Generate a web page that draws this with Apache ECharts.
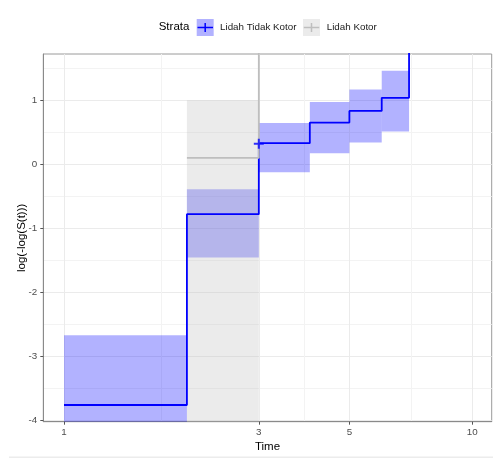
<!DOCTYPE html>
<html>
<head>
<meta charset="utf-8">
<script src="https://cdn.jsdelivr.net/npm/echarts@6/dist/echarts.min.js"></script>
<style>
html,body{margin:0;padding:0;background:#fff;}
#chart{width:493px;height:458px;}
</style>
</head>
<body>
<div id="chart"></div>
<script>
// ---- data ----
const strataNames = ['Lidah Tidak Kotor', 'Lidah Kotor'];
// Lidah Tidak Kotor: step line log(-log(S(t))) and confidence band
const timesA = [1, 2, 3, 4, 5, 6, 7];
const cloglogA = [-3.766, -0.781, 0.329, 0.651, 0.834, 1.038, Infinity];
const lowerA = [-Infinity, -1.46, -0.125, 0.172, 0.338, 0.51];
const upperA = [-2.675, -0.391, 0.646, 0.975, 1.167, 1.4625];
// Lidah Kotor
const timesB = [2, 3];
const cloglogB = [0.099, Infinity];
const lowerB = [-Infinity];
const upperB = [1.0];
// censored observation
const censorA = [[3, 0.32]];
// ticks
const xTicks = [1, 3, 5, 10];
const xMinorTicks = [Math.sqrt(3), Math.sqrt(15), Math.sqrt(50)];
const yTicks = [-4, -3, -2, -1, 0, 1];
const yMinorTicks = [-3.5, -2.5, -1.5, -0.5, 0.5, 1.5];

// ---- chart ----
const X_MIN = -0.0507, X_MAX = 1.0475;
const Y_MIN = -4.027, Y_MAX = 1.724;
const lg = Math.log10;
const FONT = "'Liberation Sans', Arial, sans-serif";

function clampY(v) {
  if (v === Infinity) return Y_MAX + 10;
  if (v === -Infinity) return Y_MIN - 10;
  return v;
}
function stepLine(times, vals) {
  return times.map((t, i) => [lg(t), clampY(vals[i])]);
}
function bandData(times, lo, hi) {
  const out = [];
  for (let i = 0; i < times.length - 1 && i < lo.length; i++) {
    out.push([lg(times[i]), lg(times[i + 1]), clampY(lo[i]), clampY(hi[i])]);
  }
  return out;
}
function bandRender(color) {
  return function (params, api) {
    const p0 = api.coord([api.value(0), api.value(3)]);
    const p1 = api.coord([api.value(1), api.value(2)]);
    const cs = params.coordSys;
    const shape = echarts.graphic.clipRectByRect(
      { x: p0[0], y: p0[1], width: p1[0] - p0[0], height: p1[1] - p0[1] },
      { x: cs.x, y: cs.y, width: cs.width, height: cs.height }
    );
    return shape && { type: 'rect', shape: shape, style: { fill: color } };
  };
}

const blueFill = 'rgba(0,0,255,0.3)';
const greyFill = 'rgba(190,190,190,0.3)';

const chart = echarts.init(document.getElementById('chart'), null, { renderer: 'canvas' });
const option = {
  animation: false,
  backgroundColor: '#fff',
  textStyle: { fontFamily: FONT },
  grid: {
    left: 43.3, right: 1.3, top: 54, bottom: 36.3,
    containLabel: false, outerBoundsMode: 'none',
    show: true, borderColor: '#9a9a9a', borderWidth: 1, backgroundColor: 'transparent'
  },
  xAxis: [
    {
      type: 'value', min: X_MIN, max: X_MAX,
      name: 'Time', nameLocation: 'middle', nameGap: 19, nameMoveOverlap: false,
      nameTextStyle: { fontSize: 11.5, color: '#000', fontFamily: FONT },
      axisLine: { show: true, onZero: false, lineStyle: { color: '#8a8a8a', width: 1 } },
      axisTick: { show: true, length: 3, customValues: xTicks.map(lg), lineStyle: { color: '#555' } },
      axisLabel: {
        customValues: xTicks.map(lg), margin: 6, fontSize: 9.8, color: '#4d4d4d', fontFamily: FONT,
        formatter: v => String(Math.round(Math.pow(10, v)))
      },
      splitLine: { show: true, lineStyle: { color: '#ebebeb', width: 1 } }
    },
    {
      type: 'value', min: X_MIN, max: X_MAX, position: 'bottom',
      axisLine: { show: false }, axisLabel: { show: false },
      axisTick: { show: false, customValues: xMinorTicks.map(lg) },
      splitLine: { show: true, lineStyle: { color: '#f3f3f3', width: 1 } }
    }
  ],
  yAxis: [
    {
      type: 'value', min: Y_MIN, max: Y_MAX,
      name: 'log(-log(S(t)))', nameLocation: 'middle', nameGap: 15.5, nameRotate: 90, nameMoveOverlap: false,
      nameTextStyle: { fontSize: 11.5, color: '#000', fontFamily: FONT },
      axisLine: { show: true, onZero: false, lineStyle: { color: '#8a8a8a', width: 1 } },
      axisTick: { show: true, length: 3, customValues: yTicks, lineStyle: { color: '#555' } },
      axisLabel: { customValues: yTicks, margin: 6, fontSize: 9.8, color: '#4d4d4d', fontFamily: FONT },
      splitLine: { show: true, lineStyle: { color: '#ebebeb', width: 1 } }
    },
    {
      type: 'value', min: Y_MIN, max: Y_MAX, position: 'left',
      axisLine: { show: false }, axisLabel: { show: false },
      axisTick: { show: false, customValues: yMinorTicks },
      splitLine: { show: true, lineStyle: { color: '#f3f3f3', width: 1 } }
    }
  ],
  series: [
    {
      name: strataNames[0] + ' band', type: 'custom', z: 2,
      data: bandData(timesA, lowerA, upperA),
      encode: { x: [0, 1], y: [2, 3] },
      renderItem: bandRender(blueFill), silent: true
    },
    {
      name: strataNames[1] + ' band', type: 'custom', z: 2,
      data: bandData(timesB, lowerB, upperB),
      encode: { x: [0, 1], y: [2, 3] },
      renderItem: bandRender(greyFill), silent: true
    },
    {
      name: strataNames[0], type: 'line', step: 'end', z: 3,
      data: stepLine(timesA, cloglogA), symbol: 'none', clip: true,
      lineStyle: { color: '#0000ff', width: 1.8 }, silent: true
    },
    {
      name: strataNames[1], type: 'line', step: 'end', z: 3,
      data: stepLine(timesB, cloglogB), symbol: 'none', clip: true,
      lineStyle: { color: '#bebebe', width: 1.8 }, silent: true
    },
    {
      name: strataNames[0] + ' censor', type: 'scatter', z: 4,
      data: censorA.map(d => [lg(d[0]), d[1]]),
      symbol: 'path://M4,0h2v4h4v2h-4v4h-2v-4h-4v-2h4z', symbolSize: 10,
      itemStyle: { color: '#0000ff' }, silent: true
    }
  ],
  graphic: [
    { type: 'text', left: 158.7, top: 21, style: { text: 'Strata', font: '11.5px ' + FONT, fill: '#000' } },
    { type: 'rect', shape: { x: 196.7, y: 19, width: 17, height: 17 }, style: { fill: blueFill } },
    { type: 'line', shape: { x1: 197.5, y1: 27.5, x2: 213, y2: 27.5 }, style: { stroke: '#0000ff', lineWidth: 1.5 } },
    { type: 'line', shape: { x1: 205.2, y1: 23, x2: 205.2, y2: 32 }, style: { stroke: '#0000ff', lineWidth: 1.5 } },
    { type: 'text', left: 220, top: 22.5, style: { text: strataNames[0], font: '9.8px ' + FONT, fill: '#1a1a1a' } },
    { type: 'rect', shape: { x: 303, y: 19, width: 17, height: 17 }, style: { fill: greyFill } },
    { type: 'line', shape: { x1: 303.8, y1: 27.5, x2: 319.3, y2: 27.5 }, style: { stroke: '#bebebe', lineWidth: 1.5 } },
    { type: 'line', shape: { x1: 311.5, y1: 23, x2: 311.5, y2: 32 }, style: { stroke: '#bebebe', lineWidth: 1.5 } },
    { type: 'text', left: 326.7, top: 22.5, style: { text: strataNames[1], font: '9.8px ' + FONT, fill: '#1a1a1a' } },
    { type: 'rect', shape: { x: 9, y: 456.5, width: 484, height: 1.5 }, style: { fill: '#ececec' } }
  ]
};
chart.setOption(option);
</script>
</body>
</html>
